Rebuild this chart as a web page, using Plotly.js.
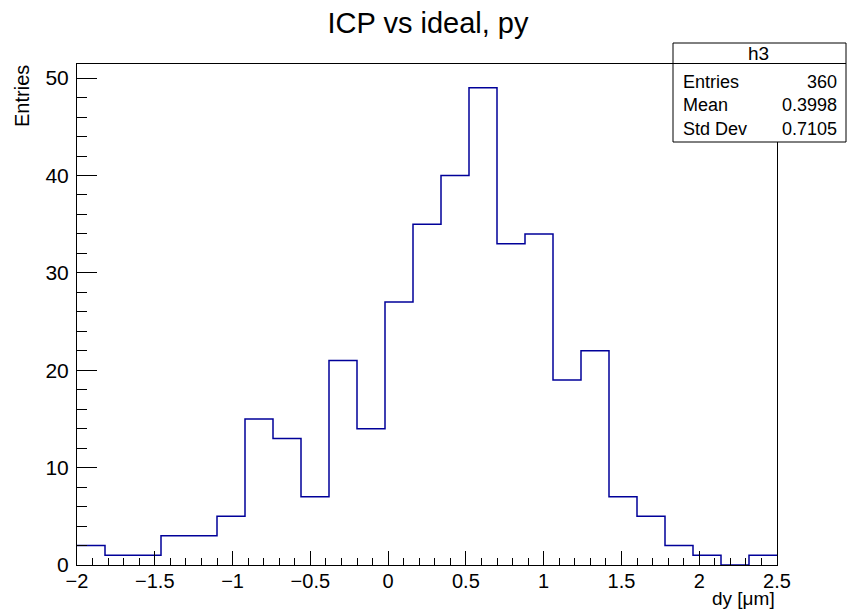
<!DOCTYPE html>
<html>
<head>
<meta charset="utf-8">
<script src="https://cdn.plot.ly/plotly-3.0.1.min.js"></script>
<style>html,body{margin:0;padding:0;background:#fff;}#chart{width:847px;height:610px;}</style>
</head>
<body>
<div id="chart"></div>
<script>
// Histogram data (h3): 25 bins from -2 to 2.5
const binLow = -2.0;
const binHigh = 2.5;
const nBins = 25;
const counts = [2, 1, 1, 3, 3, 5, 15, 13, 7, 21, 14, 27, 35, 40, 49, 33, 34, 19, 22, 7, 5, 2, 1, 0, 1];
const statLabels = ["Entries", "Mean", "Std Dev"];
const statValues = ["360", "0.3998", "0.7105"];
const histName = "h3";
const titleText = "ICP vs ideal, py";
const xTitle = "dy [\u03bcm]";
const yTitle = "Entries";

const binWidth = (binHigh - binLow) / nBins;
const xs = [], ys = [];
for (let i = 0; i < counts.length; i++) { xs.push(binLow + i * binWidth); ys.push(counts[i]); }
xs.push(binHigh); ys.push(counts[counts.length - 1]);

const font = "Liberation Sans, Arial, Helvetica, sans-serif";
// pixel -> paper helpers (plot area 77..777 x, 64..565 y)
const L = 77, R = 777, T = 64, B = 565;
const px = v => (v - L) / (R - L);
const py = v => (B - v) / (B - T);

const trace = {
  x: xs, y: ys, type: "scatter", mode: "lines",
  line: {shape: "hv", color: "#000099", width: 1.5},
  hoverinfo: "skip", showlegend: false
};

const annotations = [
  {text: xTitle, xref: "paper", yref: "paper", x: 1, y: py(598.5), xanchor: "right", yanchor: "middle", showarrow: false, font: {family: font, size: 19, color: "#000"}},
  {text: yTitle, xref: "paper", yref: "paper", x: px(22), y: 1.002, xanchor: "center", yanchor: "top", textangle: -90, showarrow: false, font: {family: font, size: 20, color: "#000"}},
  {text: histName, xref: "paper", yref: "paper", x: px(758), y: py(53), xanchor: "center", yanchor: "middle", showarrow: false, font: {family: font, size: 19, color: "#000"}}
];
const rowY = [81.5, 105, 128.5];
for (let i = 0; i < statLabels.length; i++) {
  annotations.push({text: statLabels[i], xref: "paper", yref: "paper", x: px(681), y: py(rowY[i]), xanchor: "left", yanchor: "middle", showarrow: false, font: {family: font, size: 18, color: "#000"}});
  annotations.push({text: statValues[i], xref: "paper", yref: "paper", x: px(839), y: py(rowY[i]), xanchor: "right", yanchor: "middle", showarrow: false, font: {family: font, size: 18, color: "#000"}});
}

const layout = {
  width: 847, height: 610,
  margin: {l: L, r: 847 - R, t: T, b: 610 - B, pad: 0},
  paper_bgcolor: "#fff", plot_bgcolor: "#fff",
  title: {text: titleText, font: {family: font, size: 29, color: "#000"}, x: px(428), xref: "paper", xanchor: "center", y: 1 - 23 / 610, yanchor: "middle"},
  xaxis: {
    range: [binLow, binHigh], dtick: 0.5, tick0: 0, showgrid: false, zeroline: false,
    showline: true, linecolor: "#000", linewidth: 1, mirror: true,
    ticks: "inside", ticklen: 14, tickcolor: "#000", tickwidth: 1,
    minor: {dtick: 0.1, ticks: "inside", ticklen: 7, tickcolor: "#000", tickwidth: 1, showgrid: false},
    tickfont: {family: font, size: 20, color: "#000"}, ticklabelstandoff: -2
  },
  yaxis: {
    range: [0, 51.45], dtick: 10, tick0: 0, showgrid: false, zeroline: false,
    showline: true, linecolor: "#000", linewidth: 1, mirror: true,
    ticks: "inside", ticklen: 20, tickcolor: "#000", tickwidth: 1,
    minor: {dtick: 2, ticks: "inside", ticklen: 10, tickcolor: "#000", tickwidth: 1, showgrid: false},
    tickfont: {family: font, size: 21, color: "#000"}, ticklabelstandoff: 3
  },
  shapes: [
    {type: "rect", xref: "paper", yref: "paper", x0: px(673), x1: px(846), y0: py(142), y1: py(43), line: {color: "#000", width: 1}, fillcolor: "#fff", layer: "above"},
    {type: "line", xref: "paper", yref: "paper", x0: px(673), x1: px(846), y0: py(63.5), y1: py(63.5), line: {color: "#000", width: 1}, layer: "above"}
  ],
  annotations: annotations
};

Plotly.newPlot("chart", [trace], layout, {staticPlot: true, displayModeBar: false});
</script>
</body>
</html>
